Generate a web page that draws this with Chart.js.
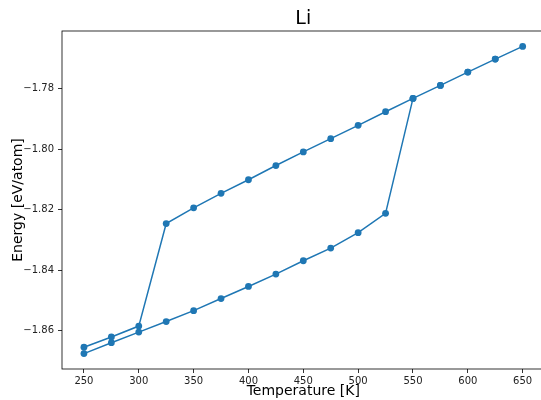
<!DOCTYPE html>
<html>
<head>
<meta charset="utf-8">
<script src="https://cdn.jsdelivr.net/npm/chart.js@4"></script>
<style>
html,body{margin:0;padding:0;background:#fff;overflow:hidden;}
#wrap{width:541px;height:400px;overflow:hidden;position:relative;}
canvas{display:block;}
</style>
</head>
<body>
<div id="wrap"><canvas id="c" width="548" height="400"></canvas></div>
<script>
// ---- data ----
const heatingTemps = [250,275,300,325,350,375,400,425,450,475,500,525,550,575,600,625,650];
const heatingEnergy = [-1.8676,-1.8640,-1.8605,-1.8570,-1.8534,-1.8494,-1.8454,-1.8413,-1.8369,-1.8327,-1.8276,-1.8212,-1.7832,-1.7789,-1.7745,-1.7702,-1.7660];
const coolingTemps = [625,600,575,550,525,500,475,450,425,400,375,350,325,300,275,250];
const coolingEnergy = [-1.7702,-1.7745,-1.7789,-1.7832,-1.7876,-1.7921,-1.7965,-1.8009,-1.8054,-1.8101,-1.8146,-1.8194,-1.8246,-1.8585,-1.8621,-1.8655];
const xTickValues = [250,300,350,400,450,500,550,600,650];
const yTickValues = [-1.86,-1.84,-1.82,-1.80,-1.78];
const titleText = 'Li';
const xLabel = 'Temperature [K]';
const yLabel = 'Energy [eV/atom]';

const points = heatingTemps.map((t,i)=>({x:t,y:heatingEnergy[i]}))
  .concat(coolingTemps.map((t,i)=>({x:t,y:coolingEnergy[i]})));

const FONT = "'DejaVu Sans', sans-serif";

const framePlugin = {
  id:'frame',
  afterDraw(chart){
    const {ctx, chartArea:a} = chart;
    ctx.save();
    ctx.strokeStyle = '#000';
    ctx.lineWidth = 0.8;
    ctx.strokeRect(a.left, a.top, a.right - a.left, a.bottom - a.top);
    ctx.fillStyle = '#000';
    const cx = (a.left + a.right)/2;
    ctx.textAlign = 'center';
    ctx.textBaseline = 'middle';
    ctx.font = '19px ' + FONT;
    ctx.fillText(titleText, cx, 19);
    ctx.font = '14px ' + FONT;
    ctx.fillText(xLabel, cx, 391);
    ctx.translate(18, (a.top + a.bottom)/2);
    ctx.rotate(-Math.PI/2);
    ctx.fillText(yLabel, 0, 0);
    ctx.restore();
  }
};

new Chart(document.getElementById('c'), {
  type:'scatter',
  data:{datasets:[{
    data:points,
    showLine:true,
    borderColor:'#1f77b4',
    backgroundColor:'#1f77b4',
    borderWidth:1.5,
    pointRadius:3.4,
    pointHoverRadius:3.4,
    pointBorderWidth:0,
    tension:0
  }]},
  options:{
    responsive:false,
    animation:false,
    events:[],
    layout:{padding:{left:0,top:31,right:3,bottom:0}},
    plugins:{legend:{display:false},tooltip:{enabled:false},title:{display:false}},
    scales:{
      x:{
        type:'linear', min:230, max:670,
        afterBuildTicks(s){ s.ticks = xTickValues.map(v=>({value:v})); },
        afterFit(s){ s.height = 31; },
        grid:{display:true, drawOnChartArea:false, drawTicks:true, tickLength:4, tickColor:'#000', tickWidth:0.8},
        border:{display:false},
        ticks:{color:'#222', font:{family:FONT,size:10}, padding:2, maxRotation:0, autoSkip:false,
          callback:(v)=>String(v)}
      },
      y:{
        type:'linear', min:-1.8727, max:-1.7609,
        afterBuildTicks(s){ s.ticks = yTickValues.map(v=>({value:v})); },
        afterFit(s){ s.width = 62; },
        grid:{display:true, drawOnChartArea:false, drawTicks:true, tickLength:4, tickColor:'#000', tickWidth:0.8},
        border:{display:false},
        ticks:{color:'#222', font:{family:FONT,size:10}, padding:4, autoSkip:false,
          callback:(v)=>'\u2212' + Math.abs(v).toFixed(2)}
      }
    }
  },
  plugins:[framePlugin]
});
</script>
</body>
</html>
